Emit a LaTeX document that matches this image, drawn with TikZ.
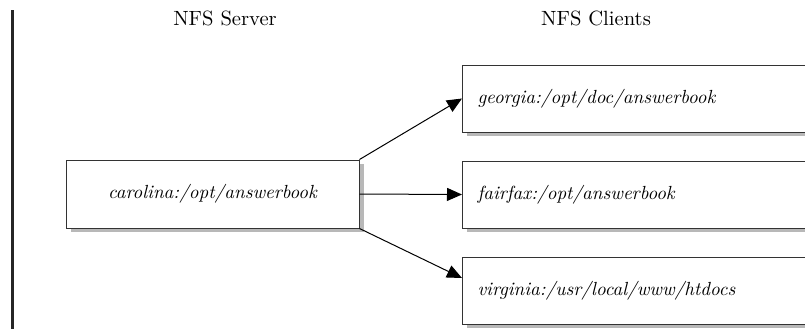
\documentclass[tikz,border=0pt]{standalone}
\usetikzlibrary{arrows.meta,shadows}
\begin{document}
\begin{tikzpicture}[x=0.5pt,y=-0.5pt,
  boxshadow/.style={drop shadow={shadow xshift=2.4pt,shadow yshift=-2.2pt,fill=black!28,opacity=1}},
  srvbox/.style={draw=black!80,line width=0.5pt,fill=white,boxshadow,minimum width=146.5pt,minimum height=34pt,inner sep=0pt,font=\fontsize{9.5}{11}\itshape},
  clibox/.style={draw=black!80,line width=0.5pt,fill=white,boxshadow,minimum height=33.5pt,text width=159pt,align=left,inner xsep=7.5pt,anchor=west,font=\fontsize{9.5}{11}\itshape},
  title/.style={font=\fontsize{10.3}{12}\selectfont},
  conn/.style={line width=0.5pt,-{Triangle[length=7.5pt,width=6.5pt]}}]
\useasboundingbox (0,0) rectangle (805,329);
\fill[black!85] (11,10) rectangle (14,329);
\node[title] (t1) at (225,18) {NFS Server};
\node[title] (t2) at (596,18) {NFS Clients};
\node[srvbox] (s) at (212.5,194) {carolina:/opt/answerbook};
\node[clibox] (c1) at (462,98.5) {georgia:/opt/doc/answerbook};
\node[clibox] (c2) at (462,194.5) {fairfax:/opt/answerbook};
\node[clibox] (c3) at (462,290.5) {virginia:/usr/local/www/htdocs};
\coordinate (e3) at (462,278);
\draw[conn] (s.north east) -- (c1.west);
\draw[conn] (s.east) -- (c2.west);
\draw[conn] (s.south east) -- (e3);
\end{tikzpicture}
\end{document}
